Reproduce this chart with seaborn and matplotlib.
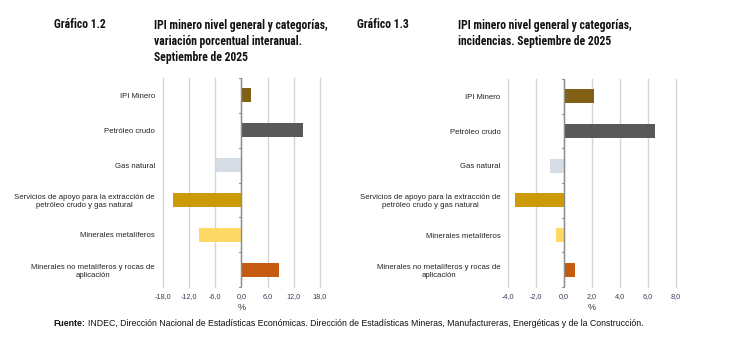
import matplotlib
matplotlib.use("Agg")
import matplotlib.pyplot as plt
import matplotlib.ticker as mticker
import seaborn as sns
import pandas as pd

categorias = [
    "IPI Minero",
    "Petróleo crudo",
    "Gas natural",
    "Servicios de apoyo para la extracción de\npetróleo crudo y gas natural",
    "Minerales metalíferos",
    "Minerales no metalíferos y rocas de\naplicación",
]
variacion_interanual = [2.1, 14.0, -5.7, -15.6, -9.8, 8.7]
incidencias = [2.15, 6.5, -1.0, -3.5, -0.6, 0.77]
colores = ["#7F6014", "#595959", "#D6DCE4", "#CC9A06", "#FFD966", "#C55A11"]

ticks_1 = [-18, -12, -6, 0, 6, 12, 18]
ticks_2 = [-4, -2, 0, 2, 4, 6, 8]

sns.set_theme(style="white")
plt.rcParams["font.family"] = ["Liberation Sans", "DejaVu Sans"]

fig = plt.figure(figsize=(7.30, 3.39), dpi=100)

def comma_fmt(v, pos):
    return f"{v:.1f}".replace(".", ",")

def draw(ax, values, ticks, lim):
    df = pd.DataFrame({"cat": categorias, "val": values})
    sns.barplot(data=df, x="val", y="cat", hue="cat", palette=colores,
                legend=False, width=0.4, ax=ax, orient="h",
                edgecolor="none", linewidth=0, saturation=1)
    ax.set_xlim(lim)
    ax.set_ylim(len(categorias) - 0.5, -0.5)
    ax.set_xticks(ticks)
    ax.xaxis.set_major_formatter(mticker.FuncFormatter(comma_fmt))
    ax.grid(axis="x", color="#D4D4D4", linewidth=1.0)
    ax.grid(axis="y", visible=False)
    for gl in ax.get_xgridlines():
        gl.set_clip_on(False)
    ax.set_axisbelow(True)
    for s in ax.spines.values():
        s.set_visible(False)
    ax.tick_params(axis="y", length=0, pad=5.5, labelsize=5.6, labelcolor="#222222")
    ax.tick_params(axis="x", length=0, pad=4.3, labelsize=5.2, labelcolor="#3A3A5A")
    for lab in ax.get_yticklabels():
        lab.set_multialignment("center")
    ax.set_ylabel("")
    ax.set_xlabel("%", fontsize=6.5, color="#333333", labelpad=2)
    ax.axvline(0, color="#8C8C8C", linewidth=1.0, zorder=3)
    span = lim[1] - lim[0]
    tl = span * 0.012
    for b in [i - 0.5 for i in range(len(categorias) + 1)]:
        ax.plot([-tl, 0], [b, b], color="#8C8C8C", linewidth=0.8, zorder=3,
                clip_on=False)

ax1 = fig.add_axes([162.7 / 730, 52 / 339, 157.3 / 730, 209 / 339])
draw(ax1, variacion_interanual, ticks_1, (-18, 18))

ax2 = fig.add_axes([508.3 / 730, 52 / 339, 167.7 / 730, 208 / 339])
draw(ax2, incidencias, ticks_2, (-4, 8))

title_font = dict(family=["Roboto Condensed", "Liberation Sans Narrow", "Liberation Sans"],
                  fontweight="bold", fontsize=8.4, color="#111111", va="center")

def title(x, lines):
    for i, ln in enumerate(lines):
        fig.text(x / 730, 1 - (25 + 16.3 * i) / 339, ln, **title_font)

fig.text(53.5 / 730, 1 - 25 / 339, "Gráfico 1.2", **title_font)
title(154.3, ["IPI minero nivel general y categorías,",
              "variación porcentual interanual.",
              "Septiembre de 2025"])
fig.text(357 / 730, 1 - 25 / 339, "Gráfico 1.3", **title_font)
title(457.7, ["IPI minero nivel general y categorías,",
              "incidencias. Septiembre de 2025"])

fs_foot = 6.3
t_f = fig.text(53.5 / 730, 1 - 324 / 339, "Fuente:", fontsize=fs_foot, fontweight="bold",
               color="#111111", va="center")
fig.canvas.draw()
bb = t_f.get_window_extent(renderer=fig.canvas.get_renderer())
fig.text((bb.x1 + 2.5) / 730, 1 - 324 / 339,
         "INDEC, Dirección Nacional de Estadísticas Económicas. Dirección de Estadísticas Mineras, Manufactureras, Energéticas y de la Construcción.",
         fontsize=fs_foot, color="#111111", va="center")

fig.savefig("out.png", dpi=100, facecolor="white")
